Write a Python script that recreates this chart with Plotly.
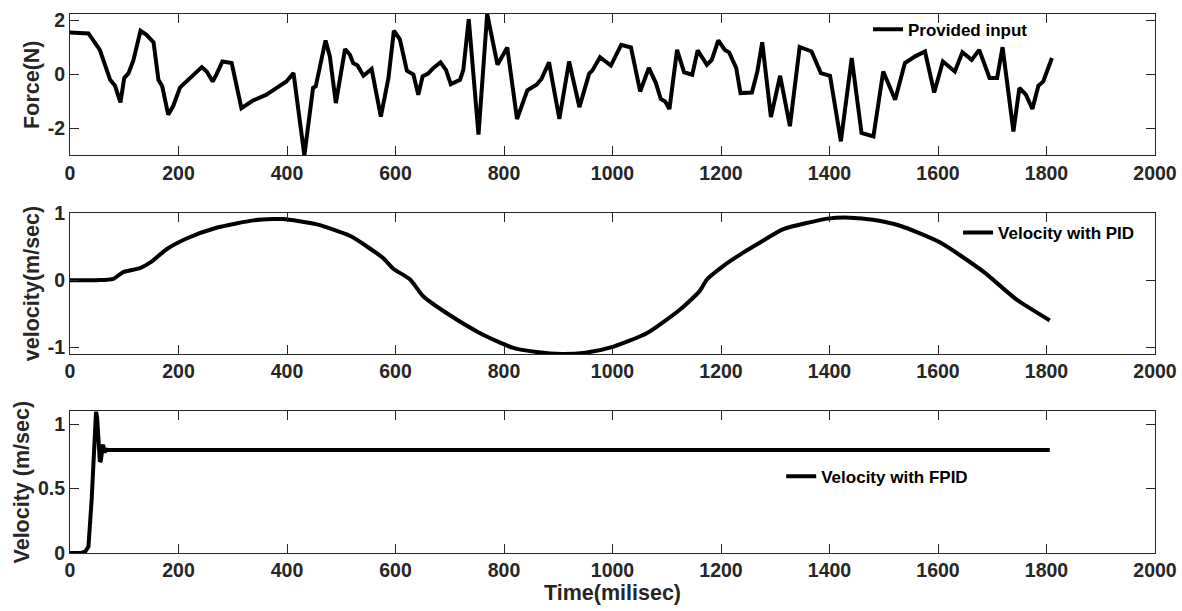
import plotly.graph_objects as go

# ---- data ----
force_t = [0, 34, 55, 74, 83, 93, 100, 108, 117, 130, 141, 154, 163, 170, 181, 190, 203, 215, 233, 243, 252, 263, 270, 281, 298, 316, 338, 362, 381, 399, 412, 432, 448, 453, 471, 479, 490, 507, 516, 522, 530, 541, 556, 573, 587, 597, 608, 621, 633, 642, 650, 660, 670, 683, 693, 702, 719, 725, 735, 753, 769, 788, 806, 824, 843, 860, 869, 883, 902, 920, 939, 957, 963, 977, 997, 1006, 1016, 1034, 1051, 1067, 1080, 1089, 1097, 1105, 1119, 1132, 1147, 1157, 1174, 1183, 1195, 1207, 1215, 1228, 1236, 1257, 1267, 1276, 1292, 1309, 1327, 1345, 1367, 1384, 1401, 1421, 1441, 1459, 1481, 1499, 1521, 1539, 1558, 1576, 1593, 1609, 1631, 1645, 1662, 1676, 1695, 1709, 1719, 1739, 1750, 1762, 1774, 1785, 1794, 1810]
force_v = [1.55, 1.52, 0.91, -0.2, -0.42, -1.04, -0.13, 0.05, 0.54, 1.62, 1.47, 1.19, -0.2, -0.44, -1.49, -1.18, -0.48, -0.26, 0.05, 0.27, 0.11, -0.26, 0.0, 0.48, 0.42, -1.25, -0.96, -0.75, -0.5, -0.26, 0.05, -3.0, -0.5, -0.44, 1.26, 0.67, -1.06, 0.94, 0.73, 0.42, 0.33, -0.05, 0.2, -1.56, -0.13, 1.62, 1.3, 0.14, 0.0, -0.75, -0.07, 0.03, 0.24, 0.45, 0.17, -0.36, -0.2, 0.17, 2.05, -2.23, 2.24, 0.36, 1.0, -1.65, -0.59, -0.38, -0.17, 0.45, -1.65, 0.48, -1.21, 0.03, 0.15, 0.64, 0.33, 0.69, 1.1, 1.0, -0.63, 0.24, -0.32, -0.91, -1.0, -1.28, 0.91, 0.08, -0.01, 0.89, 0.36, 0.54, 1.26, 0.91, 0.82, 0.24, -0.69, -0.67, 0.11, 1.19, -1.58, -0.05, -1.92, 1.02, 0.85, 0.05, -0.05, -2.48, 0.61, -2.17, -2.3, 0.11, -0.94, 0.42, 0.67, 0.85, -0.67, 0.48, 0.11, 0.82, 0.54, 0.91, -0.13, -0.13, 1.01, -2.11, -0.5, -0.75, -1.28, -0.42, -0.26, 0.61]

pid_t = [0, 50, 80, 98, 129, 151, 178, 215, 270, 338, 375, 393, 455, 516, 577, 596, 627, 651, 694, 756, 817, 860, 906, 950, 1002, 1063, 1124, 1161, 1174, 1204, 1241, 1272, 1315, 1400, 1438, 1480, 1530, 1604, 1683, 1745, 1806]
pid_v = [0, 0, 0.02, 0.12, 0.18, 0.28, 0.46, 0.62, 0.78, 0.89, 0.91, 0.91, 0.83, 0.66, 0.33, 0.17, 0.01, -0.24, -0.49, -0.79, -1.01, -1.07, -1.10, -1.08, -0.99, -0.79, -0.44, -0.16, 0.01, 0.21, 0.41, 0.56, 0.76, 0.92, 0.93, 0.9, 0.81, 0.56, 0.13, -0.29, -0.6]

fpid_t = [0, 20, 28, 34, 40, 45, 48, 50, 52, 54, 55, 57, 58, 60, 61, 63, 64, 66, 68, 71, 1806]
fpid_v = [0, 0, 0.01, 0.05, 0.42, 0.88, 1.1, 1.05, 0.94, 0.76, 0.71, 0.72, 0.78, 0.83, 0.84, 0.81, 0.78, 0.81, 0.80, 0.80, 0.80]

names = ["Provided input", "Velocity with PID", "Velocity with FPID"]
ytitles = ["Force(N)", "velocity(m/sec)", "Velocity (m/sec)"]
yranges = [[-3.0, 2.24], [-1.1, 1.0], [0, 1.1]]
yticks = [[-2, 0, 2], [-1, 0, 1], [0, 0.5, 1]]
yticktext = [["-2", "0", "2"], ["-1", "0", "1"], ["0", "0.5", "1"]]
xticks = list(range(0, 2001, 200))

FONT = "Liberation Sans, Arial, sans-serif"
AX = "#262626"

fig = go.Figure()
series = [(force_t, force_v), (pid_t, pid_v), (fpid_t, fpid_v)]
shapes = ["linear", "spline", "linear"]
for i, (t, v) in enumerate(series):
    sfx = "" if i == 0 else str(i + 1)
    line = dict(color="black", width=4, shape=shapes[i])
    if shapes[i] == "spline":
        line["smoothing"] = 0.6
    fig.add_trace(go.Scatter(
        x=t, y=v, mode="lines", name=names[i], line=line,
        xaxis="x" + sfx, yaxis="y" + sfx,
        legend="legend" + sfx,
    ))

domains = [[0.7377, 1.0], [0.3692, 0.6308], [0.0, 0.2627]]
for i in range(3):
    sfx = "" if i == 0 else str(i + 1)
    fig.update_layout(**{
        "xaxis" + sfx: dict(
            domain=[0, 1], range=[0, 2000], tickvals=xticks,
            ticks="inside", ticklen=9, tickcolor=AX, tickwidth=1,
            showline=True, linecolor=AX, linewidth=1, mirror="ticks",
            showgrid=False, zeroline=False, anchor="y" + sfx, automargin=False,
            tickfont=dict(family=FONT, size=19.5, color=AX, weight="bold"),
            title=dict(text="Time(milisec)" if i == 2 else "",
                       font=dict(family=FONT, size=21.5, color=AX, weight="bold"),
                       standoff=2),
        ),
        "yaxis" + sfx: dict(
            domain=domains[i], range=yranges[i], tickvals=yticks[i],
            ticktext=yticktext[i],
            ticks="inside", ticklen=9, tickcolor=AX, tickwidth=1,
            showline=True, linecolor=AX, linewidth=1, mirror="ticks",
            showgrid=False, zeroline=False, anchor="x" + sfx, automargin=False,
            tickfont=dict(family=FONT, size=19.5, color=AX, weight="bold"),
            title=dict(text=ytitles[i],
                       font=dict(family=FONT, size=21.5, color=AX, weight="bold"),
                       standoff=2),
        ),
    })

leg_pos = [(0.7355, 0.971), (0.8185, 0.594), (0.6555, 0.1416)]
for i in range(3):
    sfx = "" if i == 0 else str(i + 1)
    fig.update_layout(**{
        "legend" + sfx: dict(
            x=leg_pos[i][0], y=leg_pos[i][1], xanchor="left", yanchor="middle",
            bgcolor="rgba(255,255,255,0)", borderwidth=0,
            font=dict(family=FONT, size=17, color="black", weight="bold"),
            itemwidth=30, tracegroupgap=0,
        )
    })

fig.update_layout(
    width=1182, height=611,
    margin=dict(l=70, r=27, t=14, b=58, autoexpand=False),
    paper_bgcolor="white", plot_bgcolor="white",
    showlegend=True,
)

fig.write_html(
    "out.html",
    config={"displayModeBar": False},
    post_script="document.body.style.margin='0px';document.body.style.overflow='hidden';",
)
